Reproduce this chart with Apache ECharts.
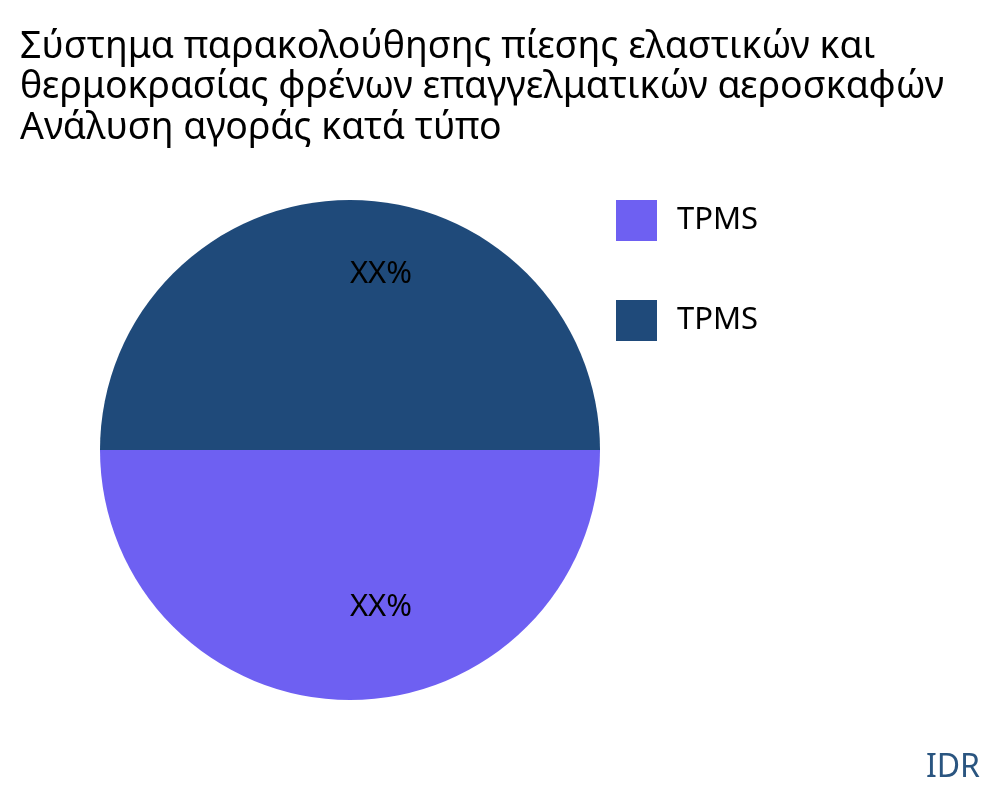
<!DOCTYPE html>
<html>
<head>
<meta charset="utf-8">
<script src="https://cdn.jsdelivr.net/npm/echarts@6/dist/echarts.min.js"></script>
<style>html,body{margin:0;padding:0;background:#fff}#c{width:1000px;height:800px}</style>
</head>
<body>
<div id="c"></div>
<script>
var titleLines = ["Σύστημα παρακολούθησης πίεσης ελαστικών και", "θερμοκρασίας φρένων επαγγελματικών αεροσκαφών", "Ανάλυση αγοράς κατά τύπο"];
var categories = ["TPMS", "TPMS "];
var legendLabels = ["TPMS", "TPMS"];
var values = [50, 50];
var sliceLabels = ["XX%", "XX%"];
var colors = ["#6E60F2", "#1F4A7A"];
var labelOffsets = [[31, 29], [31, -48]];

var chart = echarts.init(document.getElementById('c'), null, {renderer: 'canvas'});
var data = categories.map(function (c, i) {
  return {
    name: c, value: values[i],
    itemStyle: {color: colors[i]},
    label: {formatter: sliceLabels[i], offset: labelOffsets[i]}
  };
});
chart.setOption({
  animation: false,
  textStyle: {fontFamily: 'Noto Sans'},
  title: {
    text: titleLines.join('\n'),
    left: 15, top: 22,
    textStyle: {fontFamily: 'Noto Sans', fontSize: 37.4, fontWeight: 'normal', color: '#000', lineHeight: 40.5}
  },
  legend: {
    orient: 'vertical', left: 611, top: 195,
    itemWidth: 41, itemHeight: 41, itemGap: 59,
    icon: 'rect',
    data: categories,
    formatter: function (n) { return legendLabels[categories.indexOf(n)]; },
    textStyle: {fontFamily: 'Noto Sans', fontSize: 31, color: '#000', padding: [0, 0, 0, 15]}
  },
  graphic: [{
    type: 'text', right: 20, top: 752,
    style: {text: 'IDR', fontFamily: 'Noto Sans', fontSize: 32, fill: '#2A5580'}
  }],
  series: [{
    type: 'pie',
    center: [350, 450], radius: [0, 250],
    startAngle: 0, clockwise: true,
    silent: true,
    label: {position: 'inside', fontFamily: 'Noto Sans', fontSize: 31, color: '#000'},
    labelLine: {show: false},
    itemStyle: {borderWidth: 0},
    data: data
  }]
});
</script>
</body>
</html>
